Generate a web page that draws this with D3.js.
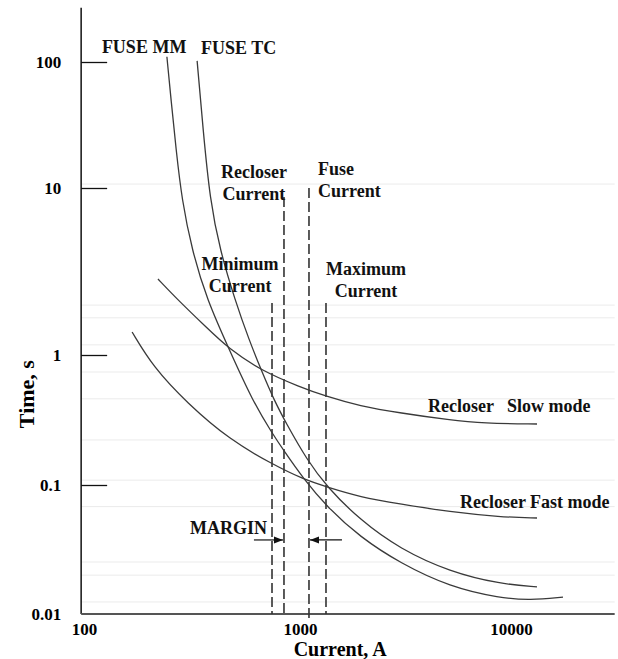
<!DOCTYPE html>
<html>
<head>
<meta charset="utf-8">
<script src="https://cdn.jsdelivr.net/npm/d3@7"></script>
<style>
  body { margin: 0; background: #fff; }
  svg { display: block; font-family: "Liberation Serif", "Times New Roman", serif; font-weight: bold; }
</style>
</head>
<body>
<svg id="chart" width="618" height="659"></svg>
<script>
// [current A, time s]
const fuseMM = [[242, 110], [253, 50], [267, 20], [284, 8.48], [316, 4.25], [371, 2.135], [469, 1.086], [600, 0.451],
  [742, 0.251], [843, 0.183], [1033, 0.113], [1343, 0.0675], [1925, 0.0395], [2978, 0.0248], [5139, 0.0162],
  [8870, 0.0133], [12300, 0.0128], [17640, 0.0135]];
const fuseTC = [[334, 102], [356, 28.9], [383, 8.48], [426, 4.25], [500, 2.135], [581, 1.23], [667, 0.741], [758, 0.451],
  [861, 0.3], [1079, 0.156], [1343, 0.0965], [1925, 0.0535], [2978, 0.0319], [5139, 0.0212], [8870, 0.0171],
  [13280, 0.0162]];
const recloserSlow = [[220, 2.85], [278, 2.077], [363, 1.492], [469, 1.086], [667, 0.754], [1000, 0.568], [1314, 0.484],
  [1925, 0.405], [2978, 0.358], [5139, 0.316], [7367, 0.298], [13280, 0.2945]];
const recloserFast = [[167, 1.373], [209, 0.808], [300, 0.427], [474, 0.222], [742, 0.145], [1033, 0.111],
  [1343, 0.0965], [1925, 0.0807], [2978, 0.0712], [5139, 0.0618], [8870, 0.0565], [13280, 0.0555]];

// vertical current markers: [current, top time, bottom time]
const currentMarkers = [[742, 2.05, 0.01], [843, 8.83, 0.01], [1103, 10, 0.009], [1328, 2.05, 0.01]];
// margin arrows: [from current, to current, time]
const marginArrows = [[612, 834, 0.0375], [1581, 1115, 0.0375]];

const xTicks = [100, 1000, 10000];
const yTicks = [0.01, 0.1, 1, 10, 100];
const gridTimes = [10.75, 1.99, 1.67, 1.15, 0.74, 0.46, 0.222, 0.109, 0.068, 0.0253, 0.02, 0.0124];
const currentMin = 97, currentMax = 31000, timeMin = 0.01, timeMax = 270;

// labels: [text, current, time, anchor]
const labels = [
  ["FUSE MM", 121, 118, "start"],
  ["FUSE TC", 348, 116, "start"],
  ["Recloser", 612, 12.0, "middle"],
  ["Current", 612, 8.48, "middle"],
  ["Fuse", 1217, 12.7, "start"],
  ["Current", 1217, 8.83, "start"],
  ["Minimum", 528, 3.23, "middle"],
  ["Current", 528, 2.38, "middle"],
  ["Maximum", 2055, 3.01, "middle"],
  ["Current", 2055, 2.22, "middle"],
  ["MARGIN", 703, 0.0417, "end"],
  ["Recloser", 4043, 0.365, "start"],
  ["Slow mode", 9572, 0.365, "start"],
  ["Recloser Fast mode", 5731, 0.0663, "start"]
];

const svg = d3.select("#chart");

const x = d3.scaleLog().domain([100, 1000, 10000]).range([84, 300, 511]);
const y = d3.scaleLog().domain([0.01, 0.1, 1, 10, 100]).range([614, 485, 355, 188, 62]);

// faint grid
svg.append("g")
  .selectAll("line")
  .data(gridTimes)
  .join("line")
  .attr("x1", x(currentMin)).attr("x2", x(currentMax))
  .attr("y1", d => y(d)).attr("y2", d => y(d))
  .attr("stroke", "#ebebeb").attr("stroke-width", 1);

// axes
const yAxis = svg.append("g")
  .attr("transform", `translate(${x(currentMin)},0)`)
  .call(d3.axisLeft(y).tickValues(yTicks).tickSize(-26).tickSizeOuter(0).tickPadding(20).tickFormat(d => String(d)))
  .attr("font-family", null).attr("font-size", 17);
yAxis.select(".domain").remove();
yAxis.selectAll(".tick line").attr("stroke", "#111").attr("stroke-width", 1.3)
  .filter(d => d === timeMin).remove();
yAxis.selectAll(".tick text").attr("fill", "#000").attr("dy", "0.32em");

const xAxis = svg.append("g")
  .attr("transform", `translate(0,${y(timeMin)})`)
  .call(d3.axisBottom(x).tickValues(xTicks).tickSize(0).tickPadding(9).tickFormat(d => String(d)))
  .attr("font-family", null).attr("font-size", 17);
xAxis.select(".domain").remove();
xAxis.selectAll(".tick text").attr("fill", "#000");

svg.append("line")
  .attr("x1", x(currentMin)).attr("x2", x(currentMin))
  .attr("y1", y(timeMin)).attr("y2", y(timeMax))
  .attr("stroke", "#111").attr("stroke-width", 1.5);
svg.append("line")
  .attr("x1", x(currentMin)).attr("x2", x(currentMax))
  .attr("y1", y(timeMin)).attr("y2", y(timeMin))
  .attr("stroke", "#555").attr("stroke-width", 2);

// dashed current markers
svg.append("g")
  .selectAll("line")
  .data(currentMarkers)
  .join("line")
  .attr("x1", d => x(d[0])).attr("x2", d => x(d[0]))
  .attr("y1", d => y(d[1])).attr("y2", d => y(d[2]))
  .attr("stroke", "#333").attr("stroke-width", 1.6).attr("stroke-dasharray", "10,4");

// curves
const line = d3.line()
  .x(d => x(d[0]))
  .y(d => y(d[1]))
  .curve(d3.curveBasis);

svg.append("g")
  .selectAll("path")
  .data([fuseMM, fuseTC, recloserSlow, recloserFast])
  .join("path")
  .attr("d", line)
  .attr("fill", "none")
  .attr("stroke", "#3a3a3a")
  .attr("stroke-width", 1.3);

// margin arrows
svg.append("defs").append("marker")
  .attr("id", "arrow")
  .attr("markerUnits", "userSpaceOnUse")
  .attr("markerWidth", 10).attr("markerHeight", 8)
  .attr("refX", 9).attr("refY", 4)
  .attr("orient", "auto")
  .append("path")
  .attr("d", "M0,0.5 L9,4 L0,7.5 Z")
  .attr("fill", "#111");

svg.append("g")
  .selectAll("line")
  .data(marginArrows)
  .join("line")
  .attr("x1", d => x(d[0])).attr("x2", d => x(d[1]))
  .attr("y1", d => y(d[2])).attr("y2", d => y(d[2]))
  .attr("stroke", "#111").attr("stroke-width", 1.2)
  .attr("marker-end", "url(#arrow)");

// annotations
svg.append("g")
  .selectAll("text")
  .data(labels)
  .join("text")
  .attr("x", d => x(d[1]))
  .attr("y", d => y(d[2]))
  .attr("text-anchor", d => d[3])
  .attr("font-size", 18)
  .attr("fill", "#111")
  .text(d => d[0]);

// axis titles
svg.append("text")
  .attr("transform", `translate(34,${y(0.5)}) rotate(-90)`)
  .attr("text-anchor", "middle")
  .attr("font-size", 22)
  .text("Time, s");

svg.append("text")
  .attr("x", x(1550))
  .attr("y", y(timeMin) + 42)
  .attr("text-anchor", "middle")
  .attr("font-size", 20)
  .text("Current, A");
</script>
</body>
</html>
